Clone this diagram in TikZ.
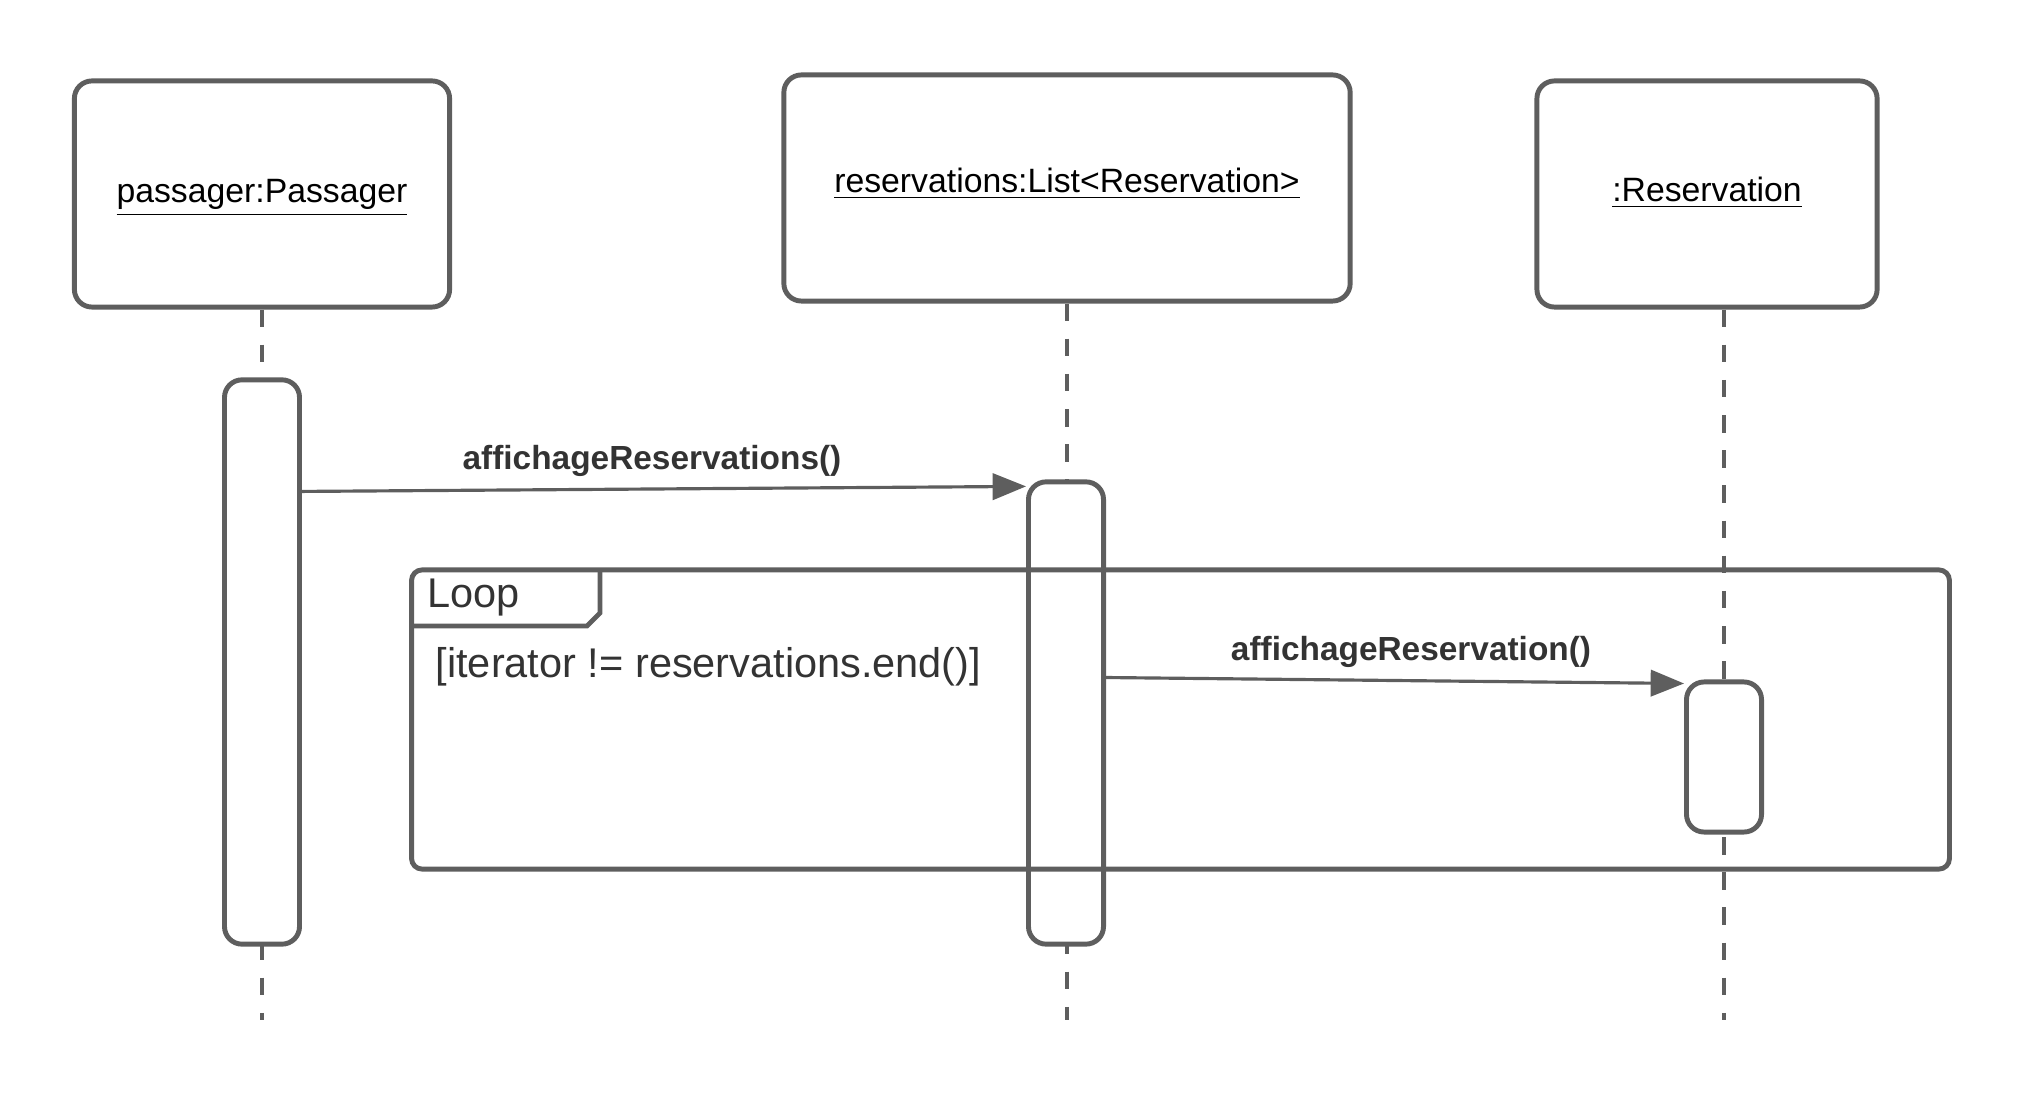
\documentclass[tikz,border=0pt]{standalone}
\usepackage{fontspec}
\setmainfont{Liberation Sans}
\usetikzlibrary{arrows.meta}
\definecolor{linegray}{HTML}{5E5E5E}
\definecolor{textgray}{HTML}{333333}
\tikzset{
    objbox/.style={draw=linegray, line width=1.4pt, rounded corners=5pt, fill=white},
    objlabel/.style={font=\fontsize{9.6}{11}\selectfont, text=black},
    actbar/.style={draw=linegray, line width=1.4pt, rounded corners=5pt, fill=white,
        minimum width=0.75cm},
    lifeline/.style={draw=linegray, line width=0.9pt, dash pattern=on 5pt off 5pt},
    msg/.style={draw=linegray, line width=0.9pt, -{Triangle[length=9.5pt,width=7.5pt]}},
    msglabel/.style={font=\bfseries\fontsize{9.5}{11}\selectfont, text=textgray},
    fragtext/.style={font=\fontsize{11.8}{14}\selectfont, text=textgray, anchor=west, inner sep=0pt}
}
\begin{document}
\begin{tikzpicture}[x=0.01cm, y=-0.01cm]
    \useasboundingbox (0,0) rectangle (2025,1095);
    % objets
    \node[objbox, minimum width=3.75cm, minimum height=2.26cm] (passager) at (262,194) {};
    \node[objbox, minimum width=5.66cm, minimum height=2.26cm] (liste) at (1067,188) {};
    \node[objbox, minimum width=3.40cm, minimum height=2.26cm] (resa) at (1707,194) {};
    \node[objlabel] (passagerlabel) at (262,198) {\underline{passager:Passager}};
    \node[objlabel] (listelabel) at (1067,184) {\underline{reservations:List<Reservation>}};
    \node[objlabel] (resalabel) at (1707,193) {\underline{:Reservation}};
    % lignes de vie
    \coordinate (endpassager) at (262,1020);
    \coordinate (endliste) at (1067,1020);
    \coordinate (endresa) at (1724,1020);
    \draw[lifeline] (passager.south) -- (endpassager);
    \draw[lifeline] (liste.south) -- (endliste);
    \draw[lifeline] (resa.south -| endresa) -- (endresa);
    % activations
    \node[actbar, minimum height=5.64cm] (act1) at (262,662) {};
    \node[actbar, minimum height=4.62cm] (act2) at (1066,713) {};
    \node[actbar, minimum height=1.50cm] (act3) at (1724,757) {};
    % fragment loop
    \node[draw=linegray, line width=1.4pt, rounded corners=3pt,
        minimum width=15.37cm, minimum height=2.99cm] (loop) at (1180.5,719.5) {};
    \draw[linegray, line width=1.4pt] (412,626) -- (587,626) -- (600,613) -- (600,570);
    \node[fragtext] (looplabel) at (427,598) {Loop};
    \node[fragtext] (guard) at (435,667) {[iterator != reservations.end()]};
    % messages
    \draw[msg] ([yshift=-1.14cm]act1.north east) -- ([yshift=-0.07cm]act2.north west);
    \node[msglabel] (m1) at (652,461) {affichageReservations()};
    \draw[msg] ([yshift=-1.98cm]act2.north east) -- ([yshift=-0.04cm]act3.north west);
    \node[msglabel] (m2) at (1411,652) {affichageReservation()};
\end{tikzpicture}
\end{document}
